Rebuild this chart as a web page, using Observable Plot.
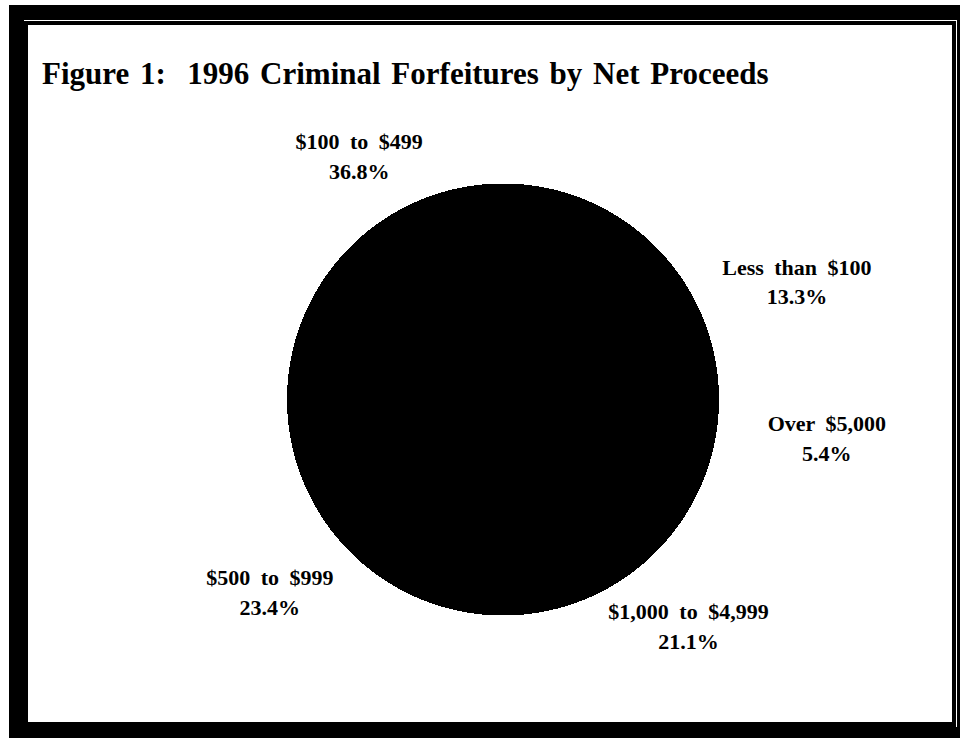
<!DOCTYPE html>
<html>
<head>
<meta charset="utf-8">
<script src="https://cdn.jsdelivr.net/npm/d3@7"></script>
<script src="https://cdn.jsdelivr.net/npm/@observablehq/plot@0.6"></script>
<style>
  html, body { margin: 0; padding: 0; background: #fff; }
  #page { position: relative; width: 960px; height: 738px; overflow: hidden; }
  .abs { position: absolute; }
  #title { left: 42px; top: 58px; font: bold 31px/31px "Liberation Serif", "Times New Roman", serif; white-space: pre; word-spacing: 3px; color: #000; }
  #chart { left: 0; top: 0; }
  #chart svg text { word-spacing: 5px; }
</style>
</head>
<body>
<div id="page">
  <div class="abs" style="left:9px;top:5px;width:951px;height:733px;background:#000"></div>
  <div class="abs" style="left:24px;top:20px;width:933px;height:707px;border-top:1px solid #fff;border-right:1px solid #fff;box-sizing:border-box"></div>
  <div class="abs" style="left:28px;top:25px;width:924px;height:697px;background:#fff"></div>
  <div id="title" class="abs">Figure 1:  1996 Criminal Forfeitures by Net Proceeds</div>
  <div id="chart" class="abs"></div>
</div>
<script>
// Data (clockwise from 3 o'clock)
const categories = ["Over $5,000", "$1,000 to $4,999", "$500 to $999", "$100 to $499", "Less than $100"];
const percents = [5.4, 21.1, 23.4, 36.8, 13.3];

// Build slice outlines from cumulative shares (geometry only)
const total = d3.sum(percents);
const startDeg = 88; // start near 3 o'clock, go clockwise
let acc = 0;
const slices = categories.map((c, i) => {
  const a0 = startDeg + (acc / total) * 360;
  acc += percents[i];
  const a1 = startDeg + (acc / total) * 360;
  return {category: c, value: percents[i], a0, a1, mid: (a0 + a1) / 2};
});
const rad = (deg) => deg * Math.PI / 180;
const slicePoints = [];
for (const s of slices) {
  slicePoints.push({key: s.category, x: 0, y: 0});
  const n = Math.max(2, Math.ceil(s.a1 - s.a0));
  for (let k = 0; k <= n; k++) {
    const a = rad(s.a0 + (s.a1 - s.a0) * k / n);
    slicePoints.push({key: s.category, x: Math.sin(a), y: Math.cos(a)});
  }
  slicePoints.push({key: s.category, x: 0, y: 0});
}
// labels sit on an ellipse around the pie, at each slice's mid-angle
const labelRx = 1.52, labelRy = 1.27;
const labels = slices.map(s => ({
  x: labelRx * Math.sin(rad(s.mid)),
  y: labelRy * Math.cos(rad(s.mid)),
  text: s.category + "\n" + s.value.toFixed(1) + "%"
}));

// Layout: pie radius 215px, centre at (502.5, 399) of a 960x738 svg
const R = 215, cx = 502.5, cy = 399, W = 960, H = 738;
const plot = Plot.plot({
  width: W, height: H,
  margin: 0,
  x: {domain: [-cx / R, (W - cx) / R], range: [0, W], axis: null},
  y: {domain: [-(H - cy) / R, cy / R], range: [H, 0], axis: null},
  style: {background: "transparent", overflow: "visible"},
  marks: [
    Plot.line(slicePoints, {x: "x", y: "y", z: "key", fill: "#000", stroke: "#000", strokeWidth: 2, curve: "linear", shapeRendering: "crispEdges"}),
    Plot.text(labels, {
      x: "x", y: "y", text: "text",
      fontSize: 22, fontWeight: "bold", fontFamily: "Liberation Serif",
      lineHeight: 1.35, fill: "#000", textAnchor: "middle"
    })
  ]
});
document.getElementById("chart").appendChild(plot);
</script>
</body>
</html>
